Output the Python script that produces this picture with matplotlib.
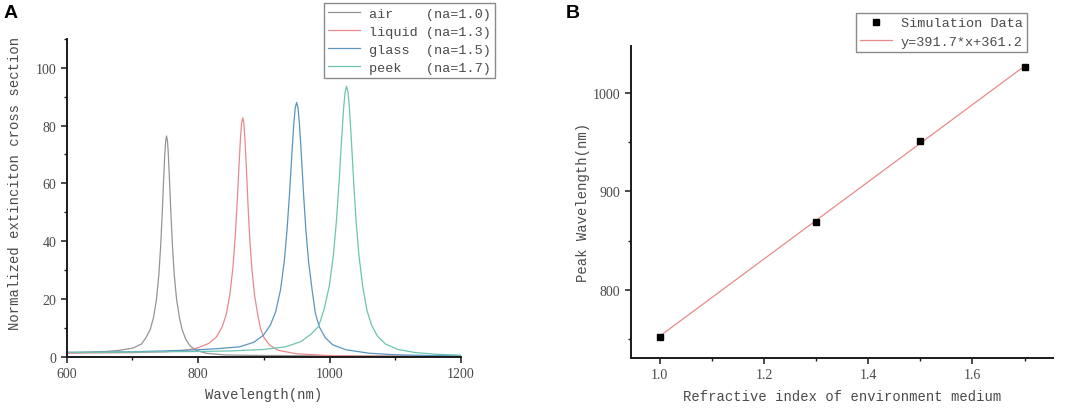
import matplotlib
matplotlib.use("Agg")
import matplotlib.pyplot as plt
from matplotlib.ticker import MultipleLocator

# ---- panel A: extinction spectra ----
air_wl = [600, 630, 660, 680, 701, 713.8, 720.5, 727.3, 732.2, 736.7, 740.3, 743, 745.3, 747.5,
          749.3, 750.7, 752, 753.4, 754.7, 756.5, 758.8, 761, 763.7, 767.3, 771.8, 776, 781.5,
          788, 797, 812, 840, 880, 950, 1050, 1200]
air_ext = [1.3, 1.5, 1.8, 2.2, 3.0, 4.4, 6.5, 9.5, 13.6, 20.0, 28.4, 38.2, 48.9, 61.1,
           70.1, 74.7, 76.4, 74.7, 70.1, 61.1, 48.9, 38.2, 28.4, 19.8, 13.3, 9.1, 5.9,
           3.7, 2.2, 1.2, 0.6, 0.45, 0.35, 0.25, 0.2]

liquid_wl = [600, 650, 700, 750, 780, 799, 816.3, 827.8, 836.4, 842.7, 848.5, 853.1, 856.5,
             859.4, 862.3, 864.6, 866.3, 868, 869.6, 871.2, 873.3, 875.9, 878.5, 881.7, 885.9,
             891.1, 895, 900.5, 909, 922, 950, 1000, 1050, 1100, 1200]
liquid_ext = [1.2, 1.3, 1.4, 1.7, 2.2, 3.0, 4.6, 6.8, 10.2, 14.5, 21.6, 31.1, 41.6,
              53.1, 66.3, 76.0, 81.0, 82.7, 80.9, 75.8, 66.2, 52.9, 41.4, 30.8, 21.3,
              14.1, 9.7, 6.5, 4.0, 2.2, 1.0, 0.38, 0.2, 0.15, 0.1]

glass_wl = [600, 650, 700, 750, 800, 830, 863, 884.8, 899.3, 910.1, 918.1, 925.4, 931.2, 935.5,
            939.1, 942.8, 945.7, 947.8, 950, 952.1, 954.2, 957, 960.5, 964, 968.2, 973.8,
            978.5, 984.5, 993.5, 1005, 1025, 1060, 1100, 1150, 1200]
glass_ext = [1.5, 1.6, 1.7, 2.0, 2.4, 2.8, 3.4, 5.0, 7.4, 11.0, 15.6, 23.1, 33.1, 44.3,
             56.3, 70.4, 80.7, 86.1, 88.0, 86.1, 80.7, 70.4, 56.3, 44.0, 32.7, 22.6,
             15.0, 10.3, 6.6, 4.1, 2.4, 1.2, 0.66, 0.4, 0.3]

peek_wl = [600, 650, 700, 750, 800, 850, 900, 933, 956.3, 971.8, 983.4, 991.9, 999.7, 1005.9,
           1010.5, 1014.4, 1018.3, 1021.4, 1023.7, 1026, 1028.2, 1030.4, 1033.3, 1036.9, 1040.5,
           1044.9, 1050.7, 1057, 1064, 1073, 1085, 1104, 1130, 1160, 1200]
peek_ext = [1.5, 1.5, 1.6, 1.7, 1.8, 2.0, 2.5, 3.4, 5.2, 7.8, 10.5, 16.5, 24.5, 35.1,
            47.0, 59.9, 74.9, 85.8, 91.5, 93.6, 91.5, 85.8, 74.9, 59.9, 46.8,
            34.8, 24.1, 16.0, 10.9, 7.1, 4.4, 2.5, 1.44, 0.87, 0.52]

labels_a = ["air    (na=1.0)", "liquid (na=1.3)", "glass  (na=1.5)", "peek   (na=1.7)"]
colors_a = ["#959595", "#e88a8a", "#5a95c0", "#6cc4b2"]

# ---- panel B: peak wavelength vs refractive index ----
na = [1.0, 1.3, 1.5, 1.7]
peak_wl = [752.5, 869, 950.7, 1026]
fit_slope = 391.7
fit_intercept = 361.2

plt.rcParams['font.family'] = ['Liberation Mono', 'DejaVu Sans']
txt = "#4a4a4a"

fig = plt.figure(figsize=(10.65, 4.1), dpi=100)
ax1 = fig.add_axes([0.0626, 0.1276, 0.3702, 0.775])
ax2 = fig.add_axes([0.5925, 0.125, 0.3965, 0.761])


def style_axes(ax):
    for s in ['top', 'right']:
        ax.spines[s].set_visible(False)
    for s in ['left', 'bottom']:
        ax.spines[s].set_linewidth(1.4)
        ax.spines[s].set_color('#1a1a1a')
    ax.tick_params(which='major', direction='out', length=4, width=1.1, colors='#1a1a1a',
                   labelcolor=txt)
    ax.tick_params(which='minor', direction='out', length=2.5, width=1.0, colors='#1a1a1a')
    for lab in ax.get_xticklabels() + ax.get_yticklabels():
        lab.set_fontfamily('Liberation Serif')
        lab.set_fontsize(10)


def style_legend(leg):
    leg.get_frame().set_linewidth(1.0)
    for t in leg.get_texts():
        t.set_color(txt)


leg_kw = dict(fontsize=9.7, frameon=True, fancybox=False, edgecolor='#8a8a8a', framealpha=1,
              handlelength=2.4, handletextpad=0.65, borderpad=0.3, labelspacing=0.42,
              borderaxespad=0)

series = [(air_wl, air_ext), (liquid_wl, liquid_ext), (glass_wl, glass_ext), (peek_wl, peek_ext)]
for (wl, ext), lab, c in zip(series, labels_a, colors_a):
    ax1.plot(wl, ext, color=c, lw=0.9, label=lab)
ax1.set_xlim(600, 1200)
ax1.set_ylim(0, 110)
ax1.xaxis.set_major_locator(MultipleLocator(200))
ax1.xaxis.set_minor_locator(MultipleLocator(100))
ax1.yaxis.set_minor_locator(MultipleLocator(10))
ax1.set_yticks([0, 20, 40, 60, 80, 100])
style_axes(ax1)
ax1.set_xlabel("Wavelength(nm)", fontsize=10, color=txt, labelpad=5)
ax1.set_ylabel("Normalized extinciton cross section", fontsize=10, color=txt)
ax1.yaxis.set_label_coords(-0.113, 0.547)
leg1 = ax1.legend(loc='upper right', bbox_to_anchor=(1.086, 1.113), **leg_kw)
style_legend(leg1)

# panel B
ax2.plot(na, [fit_slope * x + fit_intercept for x in na], color='#e88a8a', lw=0.9,
         label="y=391.7*x+361.2", zorder=2)
ax2.plot(na, peak_wl, ls='none', marker='s', color='black', markersize=5,
         label="Simulation Data", zorder=3)
ax2.set_xlim(0.945, 1.755)
ax2.set_ylim(731, 1047.7)
ax2.xaxis.set_minor_locator(MultipleLocator(0.1))
ax2.yaxis.set_minor_locator(MultipleLocator(50))
ax2.set_xticks([1.0, 1.2, 1.4, 1.6])
ax2.set_yticks([800, 900, 1000])
style_axes(ax2)
ax2.set_xlabel("Refractive index of environment medium", fontsize=10, color=txt, labelpad=6)
ax2.set_ylabel("Peak Wavelength(nm)", fontsize=10, color=txt, labelpad=2)
h, l = ax2.get_legend_handles_labels()
leg2 = ax2.legend(h[::-1], l[::-1], loc='upper right', bbox_to_anchor=(0.9377, 1.105), **leg_kw)
style_legend(leg2)

fig.text(0.003, 0.955, "A", fontsize=14, fontweight='bold', family='Liberation Sans')
fig.text(0.531, 0.955, "B", fontsize=14, fontweight='bold', family='Liberation Sans')

fig.savefig("out.png", dpi=100)
